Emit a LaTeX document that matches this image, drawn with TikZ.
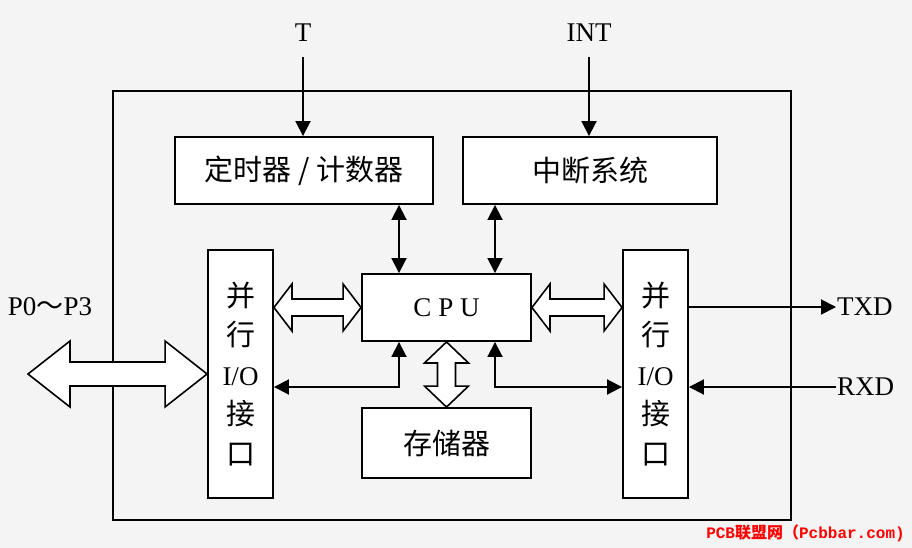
\documentclass[tikz,border=0pt]{standalone}
\usepackage{fontspec}
\setmainfont{Liberation Serif}
\newfontfamily\cjk{Noto Sans CJK SC}
\newfontfamily\wmmono{Liberation Mono}
\usetikzlibrary{arrows.meta,calc}
\definecolor{bgc}{RGB}{244,244,244}
\definecolor{wmred}{RGB}{255,0,0}
\newcommand\hhollow[5]{\draw[hollow] let \p1=(#1), \p2=(#2) in (\x1,\y1) -- (\x1+#5,\y1+#4) -- (\x1+#5,\y1+#3) -- (\x2-#5,\y1+#3) -- (\x2-#5,\y1+#4) -- (\x2,\y1) -- (\x2-#5,\y1-#4) -- (\x2-#5,\y1-#3) -- (\x1+#5,\y1-#3) -- (\x1+#5,\y1-#4) -- cycle;}
\newcommand\vhollow[5]{\draw[hollow] let \p1=(#1), \p2=(#2) in (\x1,\y1) -- (\x1+#4,\y1-#5) -- (\x1+#3,\y1-#5) -- (\x1+#3,\y2+#5) -- (\x1+#4,\y2+#5) -- (\x1,\y2) -- (\x1-#4,\y2+#5) -- (\x1-#3,\y2+#5) -- (\x1-#3,\y1-#5) -- (\x1-#4,\y1-#5) -- cycle;}
\begin{document}
\begin{tikzpicture}[x=1pt,y=-1pt,
  box/.style={draw,line width=1.9pt,fill=white,inner sep=0pt,rectangle},
  cjkfont/.style={font=\cjk\fontsize{29}{32}\selectfont},
  lbl/.style={inner sep=1pt,font=\fontsize{27}{30}\selectfont},
  arr/.style={line width=1.9pt,-{Triangle[length=15pt,width=15pt]}},
  darr/.style={line width=1.9pt,{Triangle[length=15pt,width=15pt]}-{Triangle[length=15pt,width=15pt]}},
  hollow/.style={draw,line width=1.6pt,fill=white,line join=miter},
  iobox/.style={box,minimum width=65pt,minimum height=248pt,align=center,font=\fontsize{27}{39.5}\selectfont}]
\fill[bgc] (0,0) rectangle (912,548);
\useasboundingbox (0,0) rectangle (912,548);
\node[box,fill=none,minimum width=678pt,minimum height=429pt] (outer) at (452,305.5) {};
\node[box,minimum width=258pt,minimum height=67pt,cjkfont] (timer) at (304,170.5) {定时器 / 计数器};
\node[box,minimum width=254pt,minimum height=67pt,cjkfont] (intsys) at (590,170.5) {中断系统};
\node[box,minimum width=169pt,minimum height=67pt,font=\fontsize{27}{30}\selectfont] (cpu) at (446.5,307.5) {C P U};
\node[box,minimum width=169pt,minimum height=70pt,cjkfont] (mem) at (446.5,443) {存储器};
\node[iobox] (lio) at (240.5,374) {{\cjk\fontsize{29}{39.5}\selectfont 并}\\{\cjk\fontsize{29}{39.5}\selectfont 行}\\I/O\\{\cjk\fontsize{29}{39.5}\selectfont 接}\\{\cjk\fontsize{29}{39.5}\selectfont 口}};
\node[iobox] (rio) at (655.5,374) {{\cjk\fontsize{29}{39.5}\selectfont 并}\\{\cjk\fontsize{29}{39.5}\selectfont 行}\\I/O\\{\cjk\fontsize{29}{39.5}\selectfont 接}\\{\cjk\fontsize{29}{39.5}\selectfont 口}};
\node[lbl] (Tl) at (303,33) {T};
\node[lbl] (INTl) at (589,33) {INT};
\node[lbl] (Pl) at (50,307) {P0{\cjk ～}P3};
\node[lbl,anchor=west] (TXD) at (836,307) {TXD};
\node[lbl,anchor=west] (RXD) at (836,387) {RXD};
\node[inner sep=0pt,text=wmred,font=\fontsize{16}{18}\selectfont] (wm) at (805.5,533) {\wmmono\bfseries PCB\cjk 联盟网（\wmmono\bfseries Pcbbar.com)};
\coordinate (xa) at (399,0);
\coordinate (xb) at (495,0);
\coordinate (ya) at (0,387);
\coordinate (ptip) at (28,374);
\draw[arr] ([yshift=-14pt]Tl.south) -- (Tl.south |- timer.north);
\draw[arr] ([yshift=-14pt]INTl.south) -- (INTl.south |- intsys.north);
\draw[darr] (timer.south -| xa) -- (cpu.north -| xa);
\draw[darr] (intsys.south -| xb) -- (cpu.north -| xb);
\draw[darr] (lio.east |- ya) -- (xa |- ya) -- (cpu.south -| xa);
\draw[darr] (rio.west |- ya) -- (xb |- ya) -- (cpu.south -| xb);
\draw[arr] (rio.east |- TXD.west) -- (TXD.west);
\draw[arr] (RXD.west) -- (rio.east |- RXD.west);
\hhollow{ptip}{lio.west}{12pt}{33pt}{42pt}
\hhollow{lio.east |- cpu.west}{cpu.west}{8.5pt}{23.5pt}{18pt}
\hhollow{cpu.east}{rio.west |- cpu.east}{8.5pt}{23.5pt}{18pt}
\vhollow{cpu.south}{mem.north}{9pt}{22pt}{21pt}
\end{tikzpicture}
\end{document}
